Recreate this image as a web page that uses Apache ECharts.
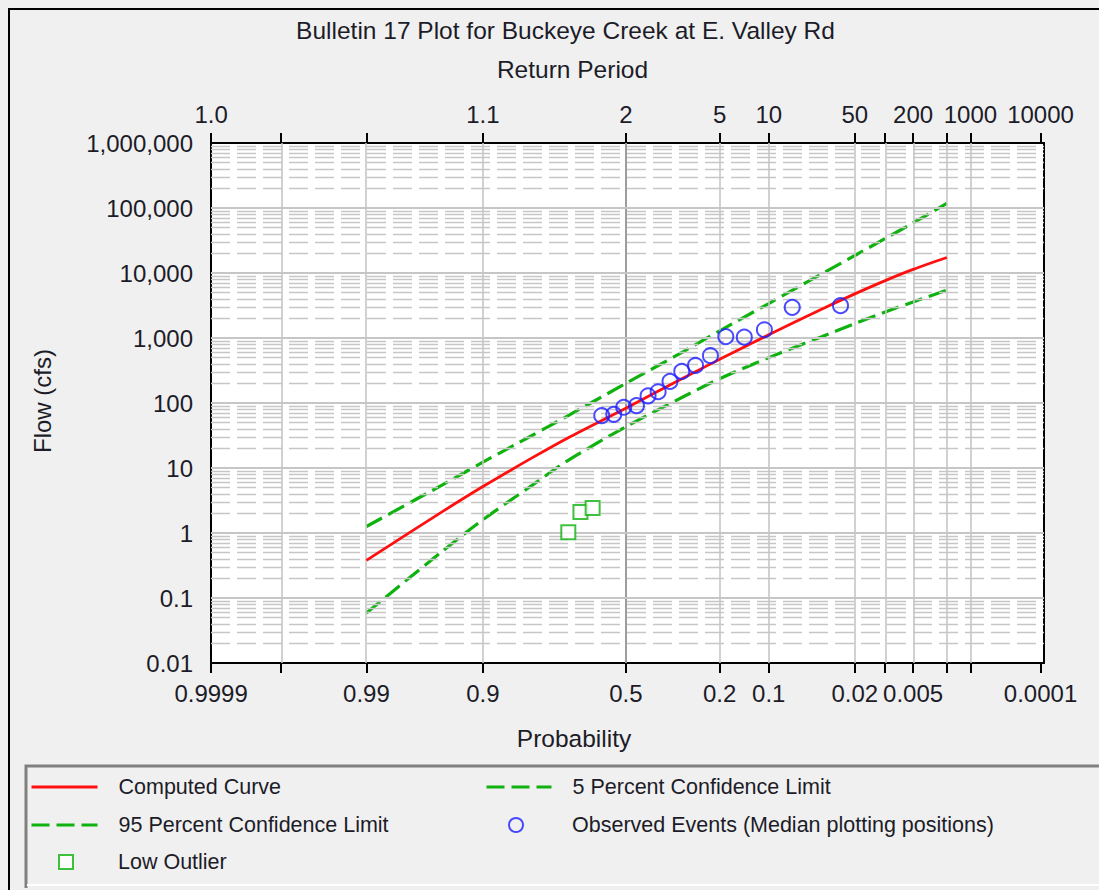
<!DOCTYPE html>
<html><head><meta charset="utf-8">
<script src="https://cdn.jsdelivr.net/npm/echarts@6/dist/echarts.min.js"></script>
<style>html,body{margin:0;padding:0;background:#f0f0f0}#c{width:1099px;height:890px}</style>
</head><body><div id="c"></div><script>
// ---- data (exceedance probability, flow in cfs) ----
const curveProbs   = [0.99, 0.95, 0.9, 0.8, 0.7, 0.5, 0.3, 0.2, 0.1, 0.04, 0.02, 0.01, 0.005, 0.002];
const computedFlow = [0.38, 2.13, 5.18, 14.3, 28.8, 83.2, 247, 469, 1119, 2748, 4775, 7638, 11350, 17340];
const upper5Flow   = [1.26, 5.5, 12.3, 31.6, 63, 200, 630, 1290, 3390, 9550, 18600, 33900, 58900, 117500];
const lower95Flow  = [0.059, 0.525, 1.6, 5.4, 12.9, 43, 127, 236, 499, 1038, 1663, 2512, 3590, 5450];
const observedProbs = [0.5855, 0.543, 0.5075, 0.462, 0.421, 0.386, 0.346, 0.308, 0.266, 0.224, 0.185, 0.144, 0.107, 0.0678, 0.0271];
const observedFlow  = [64, 67, 86, 91, 129, 149, 215, 306, 378, 534, 1050, 1030, 1340, 2960, 3140];
const outlierProbs = [0.697, 0.658, 0.617];
const outlierFlow  = [1.03, 2.1, 2.43];
// ---- axis ticks / labels ----
const tickProbs = [0.9999, 0.999, 0.99, 0.9, 0.5, 0.2, 0.1, 0.02, 0.01, 0.005, 0.002, 0.001, 0.0001];
const probLabelProbs = [0.9999, 0.99, 0.9, 0.5, 0.2, 0.1, 0.02, 0.005, 0.0001];
const probLabels = ['0.9999', '0.99', '0.9', '0.5', '0.2', '0.1', '0.02', '0.005', '0.0001'];
const rpProbs  = [0.9999, 0.9, 0.5, 0.2, 0.1, 0.02, 0.005, 0.001, 0.0001];
const rpLabels = ['1.0', '1.1', '2', '5', '10', '50', '200', '1000', '10000'];
const flowTicks = [0.01, 0.1, 1, 10, 100, 1000, 10000, 100000, 1000000];

// inverse standard normal (Acklam)
function normInv(p) {
  const a=[-3.969683028665376e+01,2.209460984245205e+02,-2.759285104469687e+02,1.383577518672690e+02,-3.066479806614716e+01,2.506628277459239e+00];
  const b=[-5.447609879822406e+01,1.615858368580409e+02,-1.556989798598866e+02,6.680131188771972e+01,-1.328068155288572e+01];
  const c=[-7.784894002430293e-03,-3.223964580411365e-01,-2.400758277161838e+00,-2.549732539343734e+00,4.374664141464968e+00,2.938163982698783e+00];
  const d=[7.784695709041462e-03,3.224671290700398e-01,2.445134137142996e+00,3.754408661907416e+00];
  const pl=0.02425, ph=1-pl; let q, r;
  if (p < pl) { q=Math.sqrt(-2*Math.log(p)); return (((((c[0]*q+c[1])*q+c[2])*q+c[3])*q+c[4])*q+c[5])/((((d[0]*q+d[1])*q+d[2])*q+d[3])*q+1); }
  if (p <= ph) { q=p-0.5; r=q*q; return (((((a[0]*r+a[1])*r+a[2])*r+a[3])*r+a[4])*r+a[5])*q/(((((b[0]*r+b[1])*r+b[2])*r+b[3])*r+b[4])*r+1); }
  q=Math.sqrt(-2*Math.log(1-p)); return -(((((c[0]*q+c[1])*q+c[2])*q+c[3])*q+c[4])*q+c[5])/((((d[0]*q+d[1])*q+d[2])*q+d[3])*q+1);
}
const zOf = p => normInv(1 - p);
const pairs = (ps, vs) => ps.map((p, i) => [zOf(p), vs[i]]);

const tickZ = tickProbs.map(zOf);
const probLabelZ = probLabelProbs.map(zOf);
const rpZ = rpProbs.map(zOf);
function lookup(v, zs, labels) {
  let best = 0, bd = Infinity;
  zs.forEach((z, i) => { const dd = Math.abs(z - v); if (dd < bd) { bd = dd; best = i; } });
  return labels[best];
}
function fmtFlow(v) {
  const n = Number(Number(v).toPrecision(6));
  return n >= 1 ? n.toLocaleString('en-US') : String(n);
}

const FONT = '"Liberation Sans", Arial, sans-serif';
const TXT = '#1c1c28';
const RED = '#ff1010', GREEN = '#0fb20f', BLUE = '#1e1eff';
const GRIDC = '#c6c6c6';

// grid lines via markLine
const gridLines = [];
for (let k = -2; k <= 5; k++) {
  for (let m = 2; m <= 9; m++) {
    gridLines.push({ yAxis: m * Math.pow(10, k), lineStyle: { color: GRIDC, width: 1.3, type: [19, 7] } });
  }
}
flowTicks.slice(1, -1).forEach(v => gridLines.push({ yAxis: v, lineStyle: { color: GRIDC, width: 2, type: 'solid' } }));
tickZ.slice(1, -1).forEach(z => gridLines.push({ xAxis: z, lineStyle: { color: GRIDC, width: 1.6, type: 'solid' } }));

const axisCommon = {
  type: 'value', min: -3.72, max: 3.75,
  axisLine: { show: true, onZero: false, lineStyle: { color: '#000', width: 2 } },
  axisTick: { show: true, inside: false, length: 10, lineStyle: { color: '#000', width: 2 }, customValues: tickZ },
  splitLine: { show: false }
};

const legendBase = (name, left, top, w, h, pad, isLine) => ({
  data: [name], left: left, top: top, orient: 'horizontal', padding: 0,
  itemWidth: w, itemHeight: h, selectedMode: false,
  itemStyle: isLine ? { opacity: 0 } : {},
  lineStyle: isLine ? { width: 3 } : {},
  textStyle: { fontSize: 21.5, fontFamily: FONT, color: TXT, padding: [0, 0, 0, pad] }
});

const chart = echarts.init(document.getElementById('c'), null, { renderer: 'svg' });
chart.setOption({
  animation: false,
  backgroundColor: '#f0f0f0',
  grid: { left: 211, right: 55, top: 143, bottom: 227, show: true, backgroundColor: '#ffffff', borderColor: '#000', borderWidth: 2 },
  xAxis: [
    Object.assign({}, axisCommon, {
      position: 'bottom',
      axisLabel: { customValues: probLabelZ, formatter: v => lookup(v, probLabelZ, probLabels), margin: 18, fontSize: 24, fontFamily: FONT, color: TXT }
    }),
    Object.assign({}, axisCommon, {
      position: 'top',
      axisLabel: { customValues: rpZ, formatter: v => lookup(v, rpZ, rpLabels), margin: 17, fontSize: 24, fontFamily: FONT, color: TXT }
    })
  ],
  yAxis: {
    type: 'log', logBase: 10, min: 0.01, max: 1000000,
    axisLine: { show: true, lineStyle: { color: '#000', width: 2 } },
    axisTick: { show: true, inside: false, length: 10, lineStyle: { color: '#000', width: 2 }, customValues: flowTicks },
    axisLabel: { customValues: flowTicks, formatter: fmtFlow, margin: 18, fontSize: 24, fontFamily: FONT, color: TXT },
    splitLine: { show: false }
  },
  legend: [
    legendBase('Computed Curve', 30, 776, 66, 14, 16, true),
    legendBase('5 Percent Confidence Limit', 485, 776, 65, 14, 16, true),
    legendBase('95 Percent Confidence Limit', 30, 814, 66, 14, 16, true),
    legendBase('Observed Events (Median plotting positions)', 508, 814, 14, 14, 44, false),
    legendBase('Low Outlier', 58, 851, 14, 14, 40, false)
  ],
  graphic: [
    { type: 'rect', silent: true, z: 0, shape: { x: 9, y: 9, width: 1200, height: 1000 }, style: { fill: 'none', stroke: '#000', lineWidth: 2 } },
    { type: 'polyline', silent: true, shape: { points: [[26, 888], [26, 766], [1100, 766]] }, style: { fill: 'none', stroke: '#808080', lineWidth: 3 } },
    { type: 'line', silent: true, shape: { x1: 27, y1: 885, x2: 1100, y2: 885 }, style: { stroke: '#ffffff', lineWidth: 2 } },
    { type: 'text', silent: true, x: 565.5, y: 30, style: { text: 'Bulletin 17 Plot for Buckeye Creek at E. Valley Rd', fontSize: 24.5, fontFamily: FONT, fill: TXT, align: 'center', verticalAlign: 'middle' } },
    { type: 'text', silent: true, x: 572.5, y: 69, style: { text: 'Return Period', fontSize: 24.5, fontFamily: FONT, fill: TXT, align: 'center', verticalAlign: 'middle' } },
    { type: 'text', silent: true, x: 574, y: 738, style: { text: 'Probability', fontSize: 24.5, fontFamily: FONT, fill: TXT, align: 'center', verticalAlign: 'middle' } },
    { type: 'text', silent: true, x: 42, y: 401, rotation: Math.PI / 2, style: { text: 'Flow (cfs)', fontSize: 24, fontFamily: FONT, fill: TXT, align: 'center', verticalAlign: 'middle' } }
  ],
  series: [
    { name: '_grid', type: 'line', data: [], z: 1, silent: true,
      markLine: { silent: true, symbol: ['none', 'none'], label: { show: false }, emphasis: { disabled: true }, animation: false, data: gridLines } },
    { name: 'Computed Curve', type: 'line', z: 5, data: pairs(curveProbs, computedFlow), symbol: 'none', smooth: 0.3,
      lineStyle: { color: RED, width: 2.8 }, itemStyle: { color: RED } },
    { name: '5 Percent Confidence Limit', type: 'line', z: 4, data: pairs(curveProbs, upper5Flow), symbol: 'none', smooth: 0.3,
      lineStyle: { color: GREEN, width: 3.2, type: [18, 7] }, itemStyle: { color: GREEN } },
    { name: '95 Percent Confidence Limit', type: 'line', z: 4, data: pairs(curveProbs, lower95Flow), symbol: 'none', smooth: 0.3,
      lineStyle: { color: GREEN, width: 3.2, type: [18, 7] }, itemStyle: { color: GREEN } },
    { name: 'Observed Events (Median plotting positions)', type: 'scatter', z: 6, data: pairs(observedProbs, observedFlow),
      symbol: 'circle', symbolSize: 15, itemStyle: { color: 'rgba(255,255,255,0)', borderColor: BLUE, borderWidth: 2 } },
    { name: 'Low Outlier', type: 'scatter', z: 6, data: pairs(outlierProbs, outlierFlow),
      symbol: 'rect', symbolSize: 14, itemStyle: { color: '#ffffff', borderColor: GREEN, borderWidth: 2 } }
  ]
});
</script></body></html>
